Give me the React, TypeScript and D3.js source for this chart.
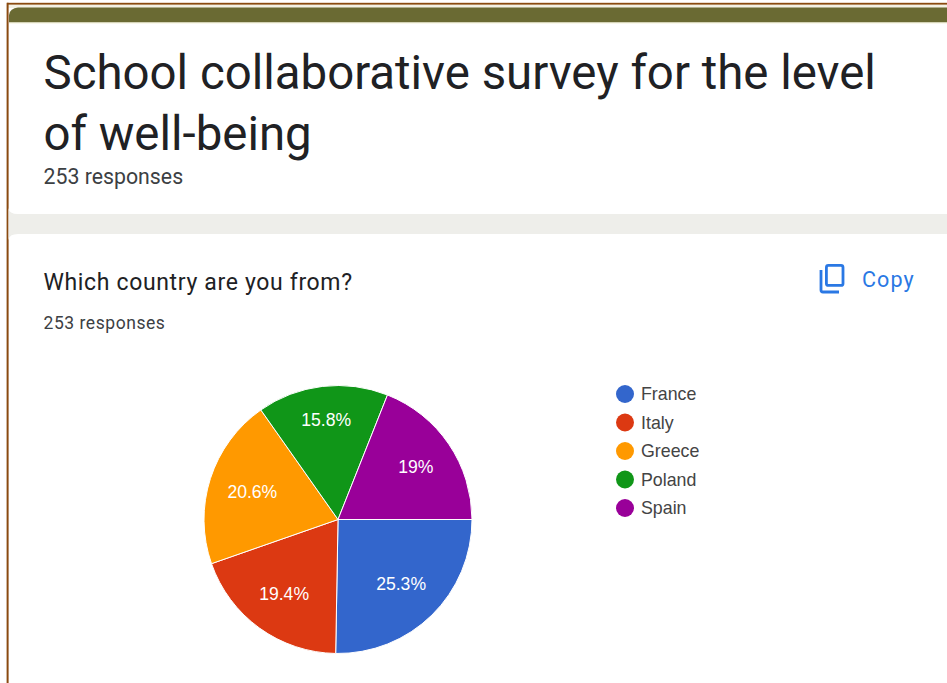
import React from "react";
import * as d3 from "d3";

const countries = ["France", "Italy", "Greece", "Poland", "Spain"];
const shares = [25.3, 19.4, 20.6, 15.8, 19];
const shareLabels = ["25.3%", "19.4%", "20.6%", "15.8%", "19%"];
const sliceColors = ["#3366cc", "#dc3912", "#ff9900", "#109618", "#990099"];
const titleLines = ["School collaborative survey for the level", "of well-being"];
const responseText = "253 responses";
const questionText = "Which country are you from?";

const WIDTH = 947;
const HEIGHT = 683;
const CX = 338;
const CY = 519.5;
const RADIUS = 134;
// Distance of each share label from the pie centre; narrow slices push theirs outward.
const labelRadii = [90, 92, 90, 101, 94];

export default function App() {
  const pie = d3
    .pie<number>()
    .sort(null)
    .startAngle(Math.PI / 2)
    .endAngle(Math.PI / 2 + 2 * Math.PI);
  const arcs = pie(shares);
  const slice = d3.arc<d3.PieArcDatum<number>>().innerRadius(0).outerRadius(RADIUS);
  const legendY = d3
    .scalePoint<string>()
    .domain(countries)
    .range([394, 508]);

  return (
    <svg
      width={WIDTH}
      height={HEIGHT}
      viewBox={`0 0 ${WIDTH} ${HEIGHT}`}
      style={{ position: "absolute", left: 0, top: 0, background: "#ffffff" }}
    >
      {/* Form header with its olive band and the outer brown frame */}
      <rect x={0} y={0} width={WIDTH} height={HEIGHT} fill="#ffffff" />
      <rect x={8} y={4} width={WIDTH} height={4} fill="#f3f1e4" />
      <path d="M9 22.5 V15 Q10 8 18 7.5 H947 V22.5 Z" fill="#6a6a33" />
      <rect x={9} y={22.5} width={WIDTH} height={1} fill="#f3f1d8" />
      <rect x={7} y={2.8} width={WIDTH} height={1.8} fill="#8a4a10" />
      <rect x={6.6} y={2.8} width={2} height={HEIGHT} fill="#8a4a10" />

      <g fontFamily="Roboto, sans-serif" fill="#202124">
        {titleLines.map((line, i) => (
          <text key={line} x={43.5} y={89 + i * 61} fontSize={47.4}>
            {line}
          </text>
        ))}
        <text x={43.5} y={184} fontSize={21.3} fill="#3c4043">
          {responseText}
        </text>
      </g>

      {/* Grey gutter between the two cards */}
      <path d="M8.5 208 Q9 214 18 214 H947 V234 H18 Q9 234 8.5 240 Z" fill="#eeeeea" />

      <g fontFamily="Roboto, sans-serif">
        <text x={43.5} y={290} fontSize={23} letterSpacing={0.65} fill="#202124">
          {questionText}
        </text>
        <text x={43.5} y={329} fontSize={17.5} letterSpacing={0.55} fill="#3c4043">
          {responseText}
        </text>
        <text x={862} y={287} fontSize={21.5} letterSpacing={1.1} fill="#2a78e4">
          Copy
        </text>
        {/* Copy icon: front sheet plus the L of the sheet behind it */}
        <g fill="none" stroke="#2a78e4" strokeWidth={2.8}>
          <rect x={826.4} y={265.4} width={16.6} height={20} rx={2} />
          <path d="M821 270 V290 Q821 292 823 292 H839" />
        </g>
      </g>

      {/* Pie slices and their share labels */}
      <g transform={`translate(${CX},${CY})`}>
        {arcs.map((a, i) => (
          <path key={countries[i]} d={slice(a) ?? ""} fill={sliceColors[i]} stroke="#ffffff" strokeWidth={1} />
        ))}
        {arcs.map((a, i) => {
          const labelArc = d3.arc<d3.PieArcDatum<number>>().innerRadius(labelRadii[i]).outerRadius(labelRadii[i]);
          const [x, y] = labelArc.centroid(a);
          return (
            <text
              key={countries[i]}
              x={x}
              y={y}
              dy="0.36em"
              textAnchor="middle"
              fontFamily="Liberation Sans, Arial, sans-serif"
              fontSize={17.6}
              fill="#ffffff"
            >
              {shareLabels[i]}
            </text>
          );
        })}
      </g>

      {/* Legend */}
      <g fontFamily="Liberation Sans, Arial, sans-serif" fontSize={17.8} fill="#444444">
        {countries.map((c, i) => (
          <g key={c} transform={`translate(0,${legendY(c)})`}>
            <circle cx={625} cy={0} r={9} fill={sliceColors[i]} />
            <text x={641} y={0} dy="0.36em">
              {c}
            </text>
          </g>
        ))}
      </g>
    </svg>
  );
}
